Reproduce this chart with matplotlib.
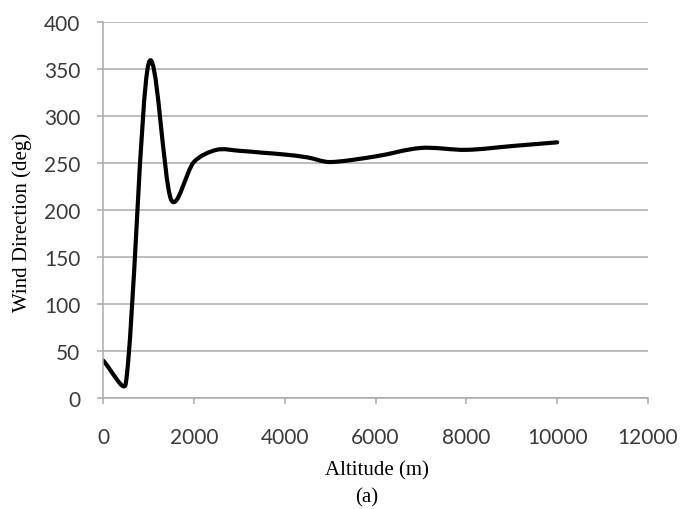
import numpy as np
import matplotlib
matplotlib.use("Agg")
import matplotlib.pyplot as plt
from matplotlib.path import Path
from matplotlib.patches import PathPatch

altitude = [0, 500, 1000, 1500, 2000, 2500, 3000, 3500, 4000, 4500, 5000, 6000, 7000, 8000, 9000, 10000]
direction = [40, 15, 355, 211, 251, 264, 263, 261, 259, 256, 251, 257, 266, 264, 268, 272]
xticks = [0, 2000, 4000, 6000, 8000, 10000, 12000]
yticks = [0, 50, 100, 150, 200, 250, 300, 350, 400]

W, H = 694, 510
L, B, AW, AH = 103, 111, 545, 376  # axes box in pixels (left, bottom, width, height)
XMAX, YMAX = 12000, 400


def smooth_path(x, y):
    # Excel-like smoothed line: cubic Beziers, tangents from neighbours,
    # control arms limited by adjacent segment lengths (computed in pixel space)
    sx, sy = AW / XMAX, AH / YMAX
    P = np.column_stack([np.asarray(x) * sx, np.asarray(y) * sy]).astype(float)
    n = len(P)
    arms_out, arms_in = [], []
    for i in range(n):
        if i == 0:
            t = P[1] - P[0]
            u = t / np.linalg.norm(t)
            arms_out.append(u * np.linalg.norm(t) / 3.0)
            arms_in.append(np.zeros(2))
            continue
        if i == n - 1:
            t = P[-1] - P[-2]
            u = t / np.linalg.norm(t)
            arms_in.append(u * np.linalg.norm(t) / 3.0)
            arms_out.append(np.zeros(2))
            continue
        t = P[i + 1] - P[i - 1]
        u = t / np.linalg.norm(t)
        base = np.linalg.norm(t) / 6.0
        dl = np.linalg.norm(P[i] - P[i - 1])
        dr = np.linalg.norm(P[i + 1] - P[i])
        arms_in.append(u * min(base, dl / 3.0))
        arms_out.append(u * min(base, dr / 3.0))
    verts = [tuple(P[0])]
    codes = [Path.MOVETO]
    for i in range(n - 1):
        c1 = P[i] + arms_out[i]
        c2 = P[i + 1] - arms_in[i + 1]
        verts += [tuple(c1), tuple(c2), tuple(P[i + 1])]
        codes += [Path.CURVE4] * 3
    verts = np.array(verts)
    verts[:, 0] /= sx
    verts[:, 1] /= sy
    return Path(verts, codes)


fig = plt.figure(figsize=(W / 100, H / 100), dpi=100)
ax = fig.add_axes([L / W, B / H, AW / W, AH / H])

grid_c = "#ababab"
ax.set_xlim(0, XMAX)
ax.set_ylim(0, YMAX)
ax.set_xticks(xticks)
ax.set_yticks(yticks)
ax.yaxis.grid(True, color=grid_c, linewidth=1.1)
ax.set_axisbelow(True)
for s in ["top", "right"]:
    ax.spines[s].set_visible(False)
for s in ["left", "bottom"]:
    ax.spines[s].set_color(grid_c)
    ax.spines[s].set_linewidth(1.1)
ax.tick_params(axis="both", direction="out", length=4.3, width=1.1, color=grid_c,
               labelsize=15, labelcolor="#3a3a3a")
ax.tick_params(axis="x", pad=16.5)
ax.tick_params(axis="y", pad=12)
for lab in ax.get_xticklabels() + ax.get_yticklabels():
    lab.set_fontfamily("Lato")

patch = PathPatch(smooth_path(altitude, direction), facecolor="none", edgecolor="black",
                  linewidth=3.0, capstyle="round", joinstyle="round", transform=ax.transData)
ax.add_patch(patch)

serif = "Liberation Serif"
fig.text(22 / W, 1 - 222 / H, "Wind Direction (deg)", rotation=90, ha="center", va="center",
         fontfamily=serif, fontsize=15)
fig.text(377 / W, 1 - 471 / H, "Altitude (m)", ha="center", va="center",
         fontfamily=serif, fontsize=15)
fig.text(366.5 / W, 1 - 498 / H, "(a)", ha="center", va="center",
         fontfamily=serif, fontsize=15)

fig.savefig("out.png", dpi=100)
